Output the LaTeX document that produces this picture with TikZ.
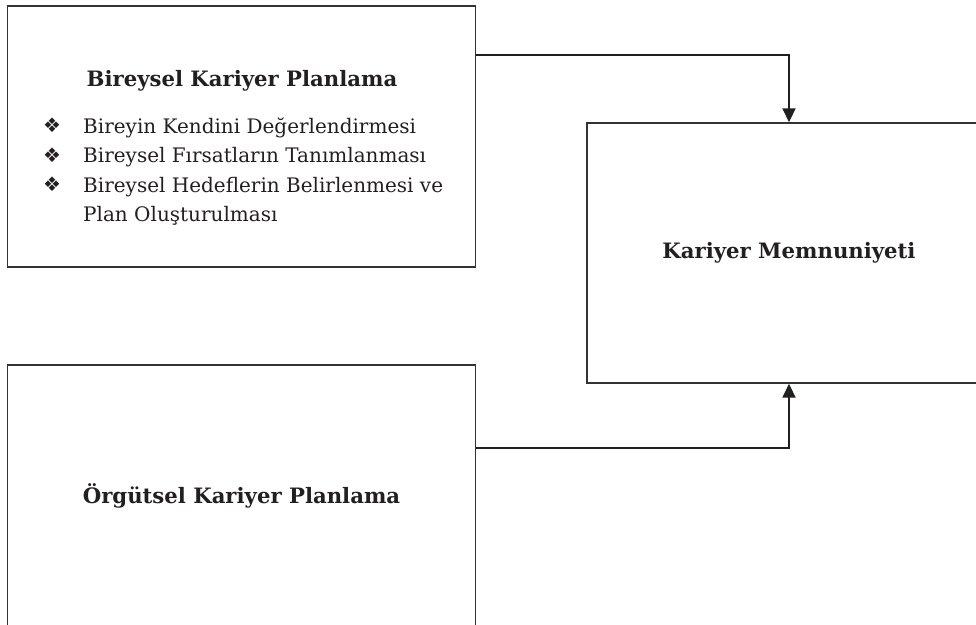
\documentclass[tikz,border=0pt]{standalone}
\usepackage{fontspec}
\setmainfont{DejaVu Serif}
\newfontfamily\symfont{DejaVu Sans}
\usetikzlibrary{arrows.meta,calc}

\definecolor{ink}{HTML}{231F20}
\definecolor{framegray}{HTML}{333333}

\begin{document}
\begin{tikzpicture}[
    x=1pt,  % one unit per pixel of the layout
    y=-1pt, % y runs downwards, as in the layout
    every node/.style={font=\fontsize{20}{30}\selectfont, text=ink},
    frame/.style={draw=framegray, line width=1.4pt, inner sep=0pt},
    title/.style={font=\fontsize{21.2}{30}\selectfont\bfseries},
    item/.style={anchor=base west, inner sep=0pt},
    bulletsym/.style={font=\fontsize{20}{20}\selectfont\symfont, anchor=base, inner sep=0pt},
    link/.style={draw=ink, line width=1.8pt, -{Triangle[width=13pt,length=14pt]}}
    ]

% --- Page size ---
\useasboundingbox (0,0) rectangle (976,624);
\clip (0,0) rectangle (976,624);

% --- Define data ---
\def\bkpItems{Bireyin Kendini Değerlendirmesi, Bireysel Fırsatların Tanımlanması, Bireysel Hedeflerin Belirlenmesi ve}

% --- Boxes ---
\node[frame, minimum width=468pt, minimum height=261pt] (bkp) at (241.5,136.5) {};
\node[frame, title, minimum width=468pt, minimum height=261pt] (okp) at (241.5,495.5) {Örgütsel Kariyer Planlama};
\node[frame, title, minimum width=404pt, minimum height=260pt] (km) at (789,253) {Kariyer Memnuniyeti};

% --- Content of the top box ---
\node[title, anchor=base] (bkpTitle) at (242,86) {Bireysel Kariyer Planlama};
\foreach \txt [count=\i from 0] in \bkpItems {
    \node[bulletsym] (B-\i) at (52,{132.5+29.5*\i}) {❖};
    \node[item] (I-\i) at (83,{133+29.5*\i}) {\txt};
}
\node[item] (I-3) at (83,221.5) {Plan Oluşturulması};

% --- Draw Connections ---
\draw[link] ($(bkp.north east)+(0,50)$) -| (km.north);
\draw[link] ($(okp.north east)+(0,84)$) -| (km.south);

\end{tikzpicture}
\end{document}
